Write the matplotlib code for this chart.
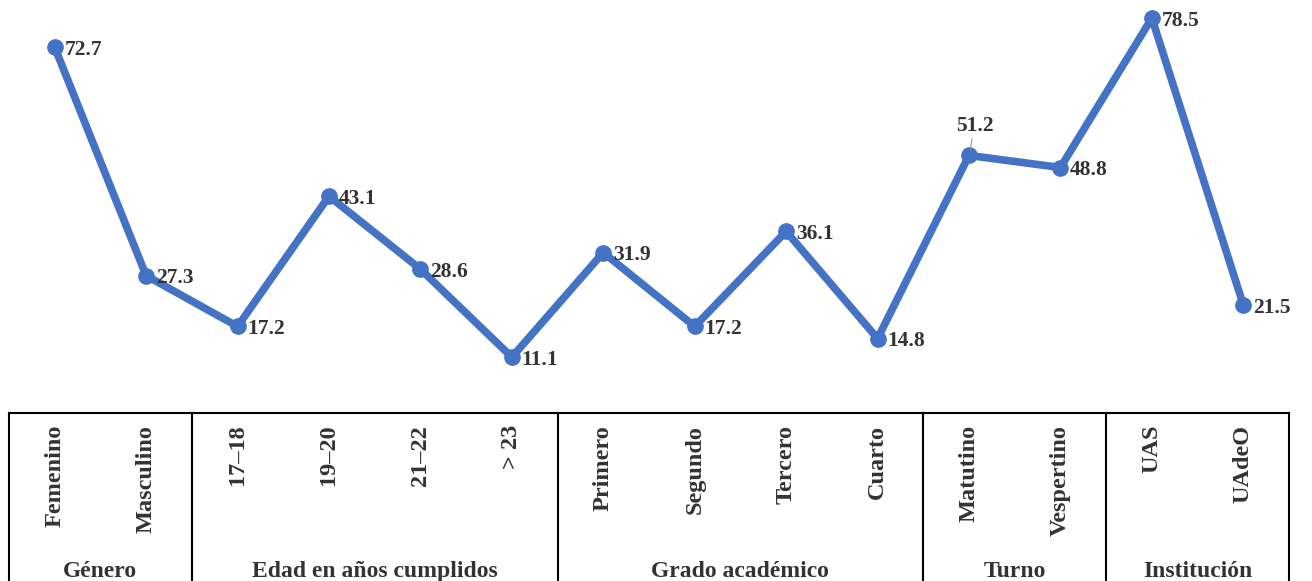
import matplotlib
matplotlib.use("Agg")
import matplotlib.pyplot as plt

categories = ["Femenino", "Masculino", "17\u201318", "19\u201320", "21\u201322", "> 23",
              "Primero", "Segundo", "Tercero", "Cuarto", "Matutino", "Vespertino",
              "UAS", "UAdeO"]
values = [72.7, 27.3, 17.2, 43.1, 28.6, 11.1, 31.9, 17.2, 36.1, 14.8, 51.2, 48.8, 78.5, 21.5]
groups = ["Género", "Edad en años cumplidos", "Grado académico", "Turno", "Institución"]
group_sizes = [2, 4, 4, 2, 2]

LINE = "#4472C4"
TXT = "#333333"
plt.rcParams["font.family"] = ["Liberation Serif", "DejaVu Serif"]

fig = plt.figure(figsize=(13.12, 5.81), dpi=100)
W, H = 1312, 581
left, right = 9 / W, 1289 / W
bottom = (H - 413) / H

ax = fig.add_axes([left, bottom, right - left, 1 - bottom])
x = list(range(len(values)))
ax.plot(x, values, color=LINE, lw=5.5, marker="o", ms=11, solid_joinstyle="round", zorder=3)
ax.set_xlim(-0.5, len(values) - 0.5)
ax.set_ylim(0, 82.1)
ax.axis("off")

for i, v in enumerate(values):
    if categories[i] == "Matutino":
        ax.annotate(f"{v:.1f}", (i, v), xytext=(4, 14), textcoords="offset points",
                    ha="center", va="bottom", fontsize=15.5, fontweight="bold", color=TXT,
                    arrowprops=dict(arrowstyle="-", color="#999999", lw=0.8, shrinkA=0, shrinkB=4))
    else:
        ax.annotate(f"{v:.1f}", (i, v), xytext=(7, -2), textcoords="offset points",
                    ha="left", va="center", fontsize=15.5, fontweight="bold", color=TXT)

# table-like category axis below the line
tb = fig.add_axes([left, 0, right - left, bottom])
tb.set_xlim(-0.5, len(values) - 0.5)
tb.set_ylim(0, 1)
tb.axis("off")
lk = dict(color="black", lw=1.5, clip_on=False)
tb.plot([-0.5, len(values) - 0.5], [1, 1], **lk)
tb.plot([-0.5, -0.5], [0, 1], **lk)
tb.plot([len(values) - 0.5, len(values) - 0.5], [0, 1], **lk)

for i, c in enumerate(categories):
    tb.text(i, 0.93, c, rotation=90, ha="center", va="top", fontsize=17.5,
            fontweight="bold", color=TXT)

start = 0
for g, n in zip(groups, group_sizes):
    end = start + n
    if end < len(values):
        tb.plot([end - 0.5, end - 0.5], [0, 1], **lk)
    tb.text((start + end - 1) / 2, 0.055, g, ha="center", va="center", fontsize=17,
            fontweight="bold", color=TXT)
    start = end

fig.savefig("out.png", dpi=100)
